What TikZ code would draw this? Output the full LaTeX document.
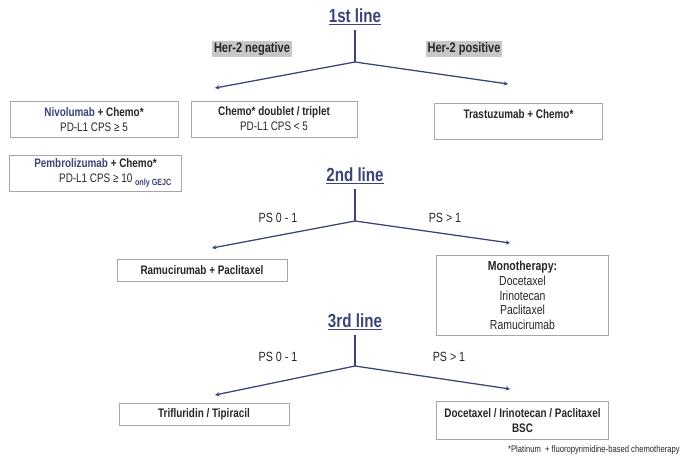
\documentclass[tikz,border=0pt]{standalone}
\usepackage{fontspec}
\setmainfont[FakeStretch=0.8]{Liberation Sans}
\usetikzlibrary{arrows.meta}

\definecolor{navy}{HTML}{3B4377}
\definecolor{boxgray}{HTML}{A6A6A6}
\definecolor{txtgray}{HTML}{262626}

\tikzset{
  linetitle/.style={font=\fontsize{13.5}{15}\selectfont\bfseries, text=navy},
  therapy/.style={draw=boxgray, line width=0.6pt, align=center, inner sep=0pt,
    font=\fontsize{8.8}{10.6}\selectfont, text=txtgray},
  branch/.style={draw=navy, line width=0.9pt},
  branchtip/.style={branch, -{Stealth[length=3pt, width=3pt]}},
  herlabel/.style={fill=black!22, inner sep=1.2pt, font=\fontsize{9.8}{11}\selectfont\bfseries, text=txtgray},
  pslabel/.style={font=\fontsize{9.5}{11}\selectfont, text=txtgray}
}

\newcommand{\ul}[1]{\underline{#1}}

\begin{document}
\begin{tikzpicture}[x=0.025cm, y=-0.025cm]
\useasboundingbox (0,0) rectangle (681,459);

% 1st line
\node[linetitle] (t1) at (355,17) {\ul{1st line}};
\coordinate (s1) at (355,62);
\coordinate (l1) at (215,88);
\coordinate (r1) at (508,84);
\draw[branch] (t1.south) -- (s1);
\draw[branchtip] (s1) -- (l1);
\draw[branchtip] (s1) -- (r1);
\node[herlabel] (hneg) at (252,49) {Her-2 negative};
\node[herlabel] (hpos) at (464,49) {Her-2 positive};

\node[therapy, minimum width=4.2cm, minimum height=0.88cm] (nivo) at (94,119.5)
  {\textbf{\color{navy}Nivolumab} \textbf{+ Chemo*}\\PD-L1 CPS ≥ 5};
\node[therapy, minimum width=4.15cm, minimum height=0.9cm] (doub) at (274,119)
  {\textbf{Chemo* doublet / triplet}\\PD-L1 CPS < 5};
\node[therapy, minimum width=4.18cm, minimum height=0.9cm] (tras) at (518.5,121)
  {\textbf{Trastuzumab + Chemo*}\\\phantom{X}};
\node[therapy, minimum width=4.28cm, minimum height=0.9cm] (pemb) at (95.5,173)
  {\textbf{\color{navy}Pembrolizumab} \textbf{+ Chemo*}\\
   \hspace*{3.2em}PD-L1 CPS ≥ 10 {\fontsize{6.4}{7}\selectfont\bfseries\color{navy}\raisebox{-2pt}{only GEJC}}};

% 2nd line
\node[linetitle] (t2) at (355,176) {\ul{2nd line}};
\coordinate (s2) at (355,221);
\coordinate (l2) at (212,248);
\coordinate (r2) at (510,243);
\draw[branch] (t2.south) -- (s2);
\draw[branchtip] (s2) -- (l2);
\draw[branchtip] (s2) -- (r2);
\node[pslabel] (ps2a) at (278,218) {PS 0 - 1};
\node[pslabel] (ps2b) at (445,218) {PS > 1};

\node[therapy, minimum width=4.25cm, minimum height=0.55cm] (ramu) at (202,270)
  {\textbf{Ramucirumab + Paclitaxel}};
\node[therapy, minimum width=4.28cm, minimum height=1.98cm, font=\fontsize{9.3}{10.4}\selectfont] (mono) at (522.5,295.5)
  {\textbf{Monotherapy:}\\Docetaxel\\Irinotecan\\Paclitaxel\\Ramucirumab};

% 3rd line
\node[linetitle] (t3) at (355,322) {\ul{3rd line}};
\coordinate (s3) at (355,366);
\coordinate (l3) at (215,395);
\coordinate (r3) at (510,389);
\draw[branch] (t3.south) -- (s3);
\draw[branchtip] (s3) -- (l3);
\draw[branchtip] (s3) -- (r3);
\node[pslabel] (ps3a) at (278,357) {PS 0 - 1};
\node[pslabel] (ps3b) at (449,357) {PS > 1};

\node[therapy, minimum width=4.25cm, minimum height=0.55cm] (trif) at (204,414)
  {\textbf{Trifluridin / Tipiracil}};
\node[therapy, minimum width=4.28cm, minimum height=0.93cm] (doce) at (522.5,420.5)
  {\textbf{Docetaxel / Irinotecan / Paclitaxel}\\\textbf{BSC}};

\node[anchor=east, inner sep=0pt, font=\fontsize{6.8}{8}\selectfont, text=txtgray] (foot) at (680,450)
  {*Platinum \ + fluoropyrimidine-based chemotherapy};

\end{tikzpicture}
\end{document}
